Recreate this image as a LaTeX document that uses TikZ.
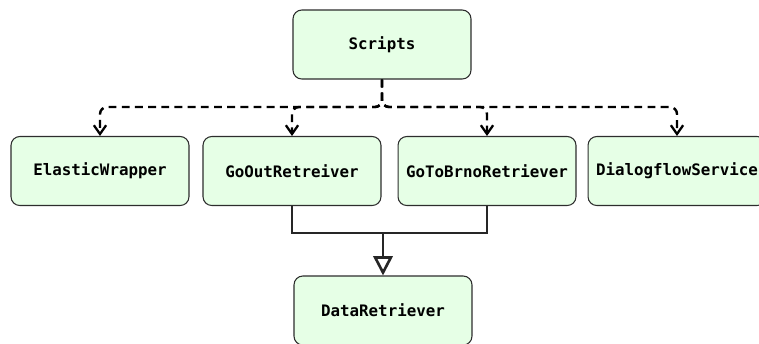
\documentclass[tikz,border=0pt]{standalone}
\usepackage{fontspec}
\setmonofont{DejaVu Sans Mono}
\usepackage{tikz}
\usetikzlibrary{arrows.meta,calc,positioning}
\definecolor{classfill}{RGB}{230,255,230}
\definecolor{classedge}{RGB}{45,45,45}
\tikzstyle{class}=[rectangle,rounded corners=5pt,draw=classedge,fill=classfill,line width=0.6pt,minimum width=3.56cm,minimum height=1.38cm,inner sep=0pt,font=\ttfamily\bfseries\fontsize{9}{11}\selectfont]
\tikzstyle{usesedge}=[-{Straight Barb[length=5pt,width=7pt,line width=1.3pt]},line width=1.4pt,dash pattern=on 4.5pt off 3pt,black]
\tikzstyle{implsedge}=[line width=1.5pt,black!85]

\begin{document}
\begin{tikzpicture}[x=0.02cm,y=-0.02cm]
\useasboundingbox (0,0) rectangle (759,343);
\clip (0,0) rectangle (759,343);
    \node[class] (Scripts) at (382,44.5) {Scripts};

    \foreach \name / \x in {ElasticWrapper/100,GoOutRetreiver/292,GoToBrnoRetriever/487,DialogflowService/677}
        \node[class] (\name) at (\x,171) {\name};

    \node[class] (DataRetriever) at (383,310.5) {DataRetriever};

    \coordinate (bus) at (382,107);
    \coordinate (join) at (383,233);

    % dependencies of the scripts
    \foreach \dest in {ElasticWrapper,GoOutRetreiver,GoToBrnoRetriever,DialogflowService}
        \draw[usesedge,rounded corners=4pt] (Scripts.south) -- (Scripts.south |- bus) -| (\dest.north);

    % both retrievers implement the data retriever
    \draw[implsedge] (GoOutRetreiver.south) |- (GoToBrnoRetriever.south |- join) -- (GoToBrnoRetriever.south);
    \draw[implsedge,-{Triangle[open,length=11pt,width=11pt,fill=white]}] (join) -- (DataRetriever.north);

\end{tikzpicture}
\end{document}
